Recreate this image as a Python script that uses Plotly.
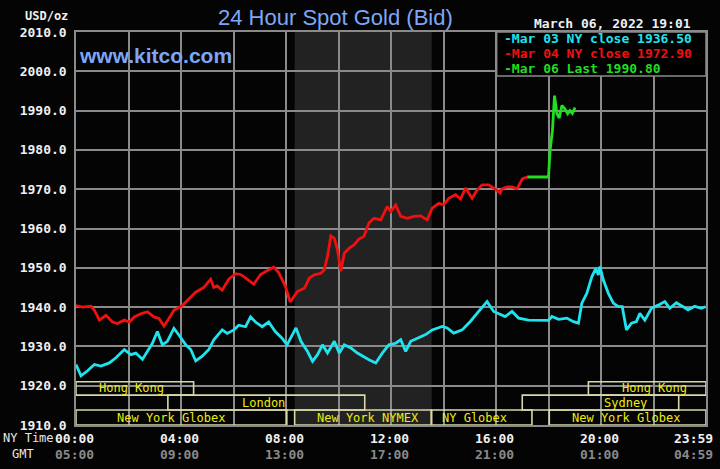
import plotly.graph_objects as go

# ---------------- data (hours after midnight NY time, price USD/oz) ----------------
mar03_hours = [0.00, 0.19, 0.44, 0.70, 0.95, 1.27, 1.52, 1.84, 2.09, 2.28, 2.53, 2.72, 2.91, 3.10,
               3.29, 3.48, 3.73, 3.92, 4.18, 4.37, 4.56, 4.81, 5.06, 5.25, 5.57, 5.76, 6.01, 6.20,
               6.46, 6.65, 6.84, 7.09, 7.34, 7.59, 7.85, 8.04, 8.23, 8.38, 8.57, 8.82, 9.01, 9.20,
               9.39, 9.58, 9.84, 10.03, 10.22, 10.47, 10.72, 10.91, 11.16, 11.42, 11.67, 11.92,
               12.18, 12.37, 12.56, 12.75, 13.00, 13.32, 13.57, 13.95, 14.14, 14.39, 14.71, 15.03,
               15.34, 15.66, 15.91, 16.23, 16.35, 16.61, 16.86, 17.24, 17.62, 18.00, 18.13, 18.38,
               18.70, 18.95, 19.14, 19.27, 19.46, 19.65, 19.80, 19.90, 19.96, 20.09, 20.28, 20.47,
               20.66, 20.81, 20.97, 21.16, 21.35, 21.48, 21.67, 21.92, 22.18, 22.43, 22.62, 22.87,
               23.13, 23.32, 23.57, 23.82, 23.98]
mar03_price = [1925.4, 1922.5, 1923.8, 1925.4, 1925.0, 1925.8, 1927.1, 1929.2, 1927.9, 1928.3, 1926.7,
               1928.8, 1930.8, 1933.8, 1930.4, 1931.3, 1934.6, 1932.9, 1930.4, 1929.2, 1926.3, 1927.5,
               1929.2, 1931.7, 1934.2, 1933.3, 1934.2, 1935.4, 1935.0, 1937.5, 1936.2, 1935.0, 1936.2,
               1933.8, 1932.1, 1930.4, 1932.9, 1934.7, 1931.3, 1928.7, 1926.2, 1927.9, 1930.4, 1928.3,
               1931.3, 1928.3, 1930.4, 1929.6, 1928.3, 1927.5, 1926.6, 1925.8, 1928.3, 1930.4, 1930.8,
               1931.7, 1928.7, 1931.3, 1932.1, 1933.0, 1934.2, 1935.1, 1934.7, 1933.4, 1934.2, 1936.4,
               1938.9, 1941.4, 1938.9, 1938.1, 1937.6, 1938.9, 1937.2, 1936.7, 1936.6, 1936.6, 1937.6,
               1936.9, 1937.2, 1936.3, 1935.9, 1941.0, 1943.5, 1947.7, 1949.8, 1948.2, 1950.3, 1946.9,
               1943.5, 1941.0, 1940.1, 1940.1, 1934.2, 1935.9, 1936.3, 1938.4, 1936.7, 1939.7, 1940.5,
               1941.4, 1939.7, 1941.1, 1940.1, 1939.3, 1940.2, 1939.7, 1940.1]

mar04_hours = [0.00, 0.25, 0.57, 0.70, 0.89, 1.14, 1.39, 1.58, 1.84, 2.03, 2.22, 2.47, 2.72, 2.97,
               3.16, 3.35, 3.54, 3.73, 4.05, 4.37, 4.56, 4.87, 5.13, 5.25, 5.38, 5.57, 5.82, 6.08,
               6.27, 6.52, 6.77, 7.03, 7.28, 7.53, 7.72, 7.97, 8.16, 8.44, 8.70, 8.89, 9.08, 9.33,
               9.46, 9.58, 9.71, 9.84, 9.96, 10.09, 10.22, 10.41, 10.59, 10.78, 10.97, 11.16, 11.35,
               11.61, 11.86, 11.99, 12.18, 12.37, 12.62, 12.87, 13.13, 13.38, 13.57, 13.82, 14.01,
               14.20, 14.46, 14.65, 14.84, 15.09, 15.28, 15.47, 15.72, 15.91, 16.16, 16.23, 16.42,
               16.61, 16.80, 17.01, 17.19]
mar04_price = [1940.4, 1940.0, 1940.2, 1939.2, 1936.7, 1937.9, 1936.2, 1935.8, 1936.7, 1936.2, 1937.5,
               1938.3, 1938.8, 1937.5, 1937.1, 1935.2, 1937.1, 1939.2, 1940.4, 1942.5, 1943.8, 1945.0,
               1947.1, 1945.0, 1945.4, 1944.3, 1947.1, 1948.5, 1948.3, 1947.1, 1945.8, 1948.3, 1949.2,
               1950.2, 1948.8, 1945.4, 1941.3, 1944.0, 1944.8, 1947.4, 1948.2, 1948.6, 1949.5, 1952.9,
               1958.1, 1957.5, 1954.6, 1949.1, 1953.7, 1955.0, 1955.8, 1957.3, 1958.0, 1961.4, 1962.6,
               1962.2, 1965.6, 1964.3, 1966.0, 1963.1, 1962.6, 1963.1, 1963.2, 1962.2, 1965.2, 1966.4,
               1966.0, 1967.7, 1968.6, 1967.5, 1970.3, 1967.7, 1969.8, 1971.1, 1971.1, 1970.3, 1969.0,
               1970.1, 1970.6, 1970.6, 1970.1, 1972.7, 1973.1]

mar06_hours = [17.19, 18.00, 18.06, 18.15, 18.23, 18.32, 18.41, 18.51, 18.63, 18.73, 18.82, 18.91, 19.01]
mar06_price = [1973.1, 1973.1, 1979.9, 1984.9, 1993.8, 1989.2, 1988.1, 1991.3, 1990.4, 1989.2, 1990.0,
               1989.3, 1990.8]

legend_labels = ["-Mar 03 NY close 1936.50", "-Mar 04 NY close 1972.90", "-Mar 06 Last 1990.80"]

y_ticks = [1910, 1920, 1930, 1940, 1950, 1960, 1970, 1980, 1990, 2000, 2010]
x_tick_hours = [0, 4, 8, 12, 16, 20, 24]
ny_tick_labels = ["00:00", "04:00", "08:00", "12:00", "16:00", "20:00", "23:59"]
gmt_tick_labels = ["05:00", "09:00", "13:00", "17:00", "21:00", "01:00", "04:59"]

# market sessions: (name, row, start hour, end hour, label hour)
session_names = ["Hong Kong", "Hong Kong", "London", "Sydney", "New York Globex",
                 "New York NYMEX", "NY Globex", "New York Globex"]
session_rows = [0, 0, 1, 1, 2, 2, 2, 2]
session_start = [0.0, 19.52, 3.5, 17.0, 0.0, 8.33, 13.55, 18.03]
session_end = [4.48, 24.0, 11.0, 22.96, 8.03, 13.53, 17.37, 24.0]
session_label_at = [2.12, 22.03, 7.14, 20.95, 3.63, 11.13, 15.19, 20.96]

pit_start, pit_end = 8.33, 13.55  # NYMEX shaded period

# ---------------- styling ----------------
W, H = 720, 469
L, R, T, B = 76, 12, 32, 44
CYAN, RED, GREEN = "#1fe3ef", "#f01010", "#22dd22"
GRID = "#8a8a8a"
TITLE_BLUE = "#7ea6f6"
YELLOW = "#ecec10"
BOXLINE = "#d8d8a8"
MONO = "DejaVu Sans Mono"


def py(p):  # pixel y -> paper y
    return (H - B - p) / (H - T - B)


def px(p):  # pixel x -> paper x
    return (p - L) / (W - L - R)


fig = go.Figure()
for xs, ys, c in [(mar03_hours, mar03_price, CYAN), (mar04_hours, mar04_price, RED),
                  (mar06_hours, mar06_price, GREEN)]:
    fig.add_trace(go.Scatter(x=xs, y=ys, mode="lines", line=dict(color=c, width=2.8),
                             hoverinfo="skip", showlegend=False))

shapes = []
# shaded NYMEX pit session
shapes.append(dict(type="rect", xref="x", yref="y", x0=pit_start, x1=pit_end, y0=1910, y1=2010,
                   fillcolor="#222222", line=dict(width=0), layer="below"))

# session boxes (rows of 3.8 price units from the bottom)
row_bounds = [(1917.6, 1921.0), (1913.8, 1917.6), (1910.0, 1913.8)]
annotations = []
for name, row, s, e, lab in zip(session_names, session_rows, session_start, session_end,
                                session_label_at):
    y0, y1 = row_bounds[row]
    shapes.append(dict(type="rect", xref="x", yref="y", x0=s, x1=e, y0=y0, y1=y1,
                       line=dict(color=BOXLINE, width=1.6), fillcolor="rgba(0,0,0,0)",
                       layer="above"))
    annotations.append(dict(x=lab, y=(y0 + y1) / 2, xref="x", yref="y", text=name,
                            showarrow=False, font=dict(family=MONO, size=12, color=YELLOW),
                            xanchor="center", yanchor="middle"))

# legend box
shapes.append(dict(type="rect", xref="paper", yref="paper", x0=px(498), x1=1.0, y0=py(76), y1=1.0,
                   fillcolor="#000000", line=dict(color=GRID, width=1.5), layer="above"))
for lab, c, yy in zip(legend_labels, [CYAN, RED, GREEN], [38.5, 53.5, 68.5]):
    annotations.append(dict(x=px(503), y=py(yy), xref="paper", yref="paper", text=lab,
                            showarrow=False, xanchor="left", yanchor="middle",
                            font=dict(family=MONO, size=13, color=c, weight="bold")))

# x tick labels (two rows)
for h, ny, gmt in zip(x_tick_hours, ny_tick_labels, gmt_tick_labels):
    shift = -13 if h == 24 else -2
    annotations.append(dict(x=h, y=py(438), xref="x", yref="paper", text=ny, showarrow=False,
                            xanchor="center", yanchor="middle", xshift=shift,
                            font=dict(family=MONO, size=13, color="#f0f0f0", weight="bold")))
    annotations.append(dict(x=h, y=py(454), xref="x", yref="paper", text=gmt, showarrow=False,
                            xanchor="center", yanchor="middle", xshift=shift,
                            font=dict(family=MONO, size=13, color="#8a8a8a", weight="bold")))
annotations.append(dict(x=px(28), y=py(438), xref="paper", yref="paper", text="NY Time",
                        showarrow=False, xanchor="center", yanchor="middle",
                        font=dict(family=MONO, size=12, color="#e8e8e8")))
annotations.append(dict(x=px(23), y=py(454), xref="paper", yref="paper", text="GMT",
                        showarrow=False, xanchor="center", yanchor="middle",
                        font=dict(family=MONO, size=12, color="#e8e8e8")))

# header texts
annotations.append(dict(x=px(336), y=py(17), xref="paper", yref="paper",
                        text="24 Hour Spot Gold (Bid)", showarrow=False, xanchor="center",
                        yanchor="middle",
                        font=dict(family="Liberation Sans, Arial", size=22, color=TITLE_BLUE)))
annotations.append(dict(x=px(77), y=py(55), xref="paper", yref="paper", text="www.kitco.com",
                        showarrow=False, xanchor="left", yanchor="middle",
                        font=dict(family="Liberation Sans, Arial", size=21, color=TITLE_BLUE,
                                  weight="bold")))
annotations.append(dict(x=px(70), y=py(16), xref="paper", yref="paper", text="USD/oz",
                        showarrow=False, xanchor="right", yanchor="middle",
                        font=dict(family=MONO, size=12, color="#f0f0f0", weight="bold")))
annotations.append(dict(x=px(695), y=py(23), xref="paper", yref="paper",
                        text="March 06, 2022 19:01", showarrow=False, xanchor="right",
                        yanchor="middle",
                        font=dict(family=MONO, size=13, color="#f0f0f0", weight="bold")))

fig.update_layout(
    width=W, height=H, autosize=False,
    margin=dict(l=L, r=R, t=T, b=B, pad=0),
    paper_bgcolor="#040404", plot_bgcolor="#040404",
    shapes=shapes, annotations=annotations, showlegend=False,
    xaxis=dict(range=[0, 24], tickvals=list(range(0, 25, 2)), showticklabels=False,
               showgrid=True, gridcolor=GRID, gridwidth=1.5, zeroline=False,
               showline=True, mirror=True, linecolor=GRID, linewidth=1.5, fixedrange=True),
    yaxis=dict(range=[1910, 2010], tickvals=y_ticks, tickformat=".1f",
               showgrid=True, gridcolor=GRID, gridwidth=1.5, zeroline=False,
               showline=True, mirror=True, linecolor=GRID, linewidth=1.5,
               ticks="outside", ticklen=5, tickcolor="rgba(0,0,0,0)",
               tickfont=dict(family=MONO, size=13, color="#f0f0f0", weight="bold"),
               fixedrange=True),
)

fig.write_html("out.html")
